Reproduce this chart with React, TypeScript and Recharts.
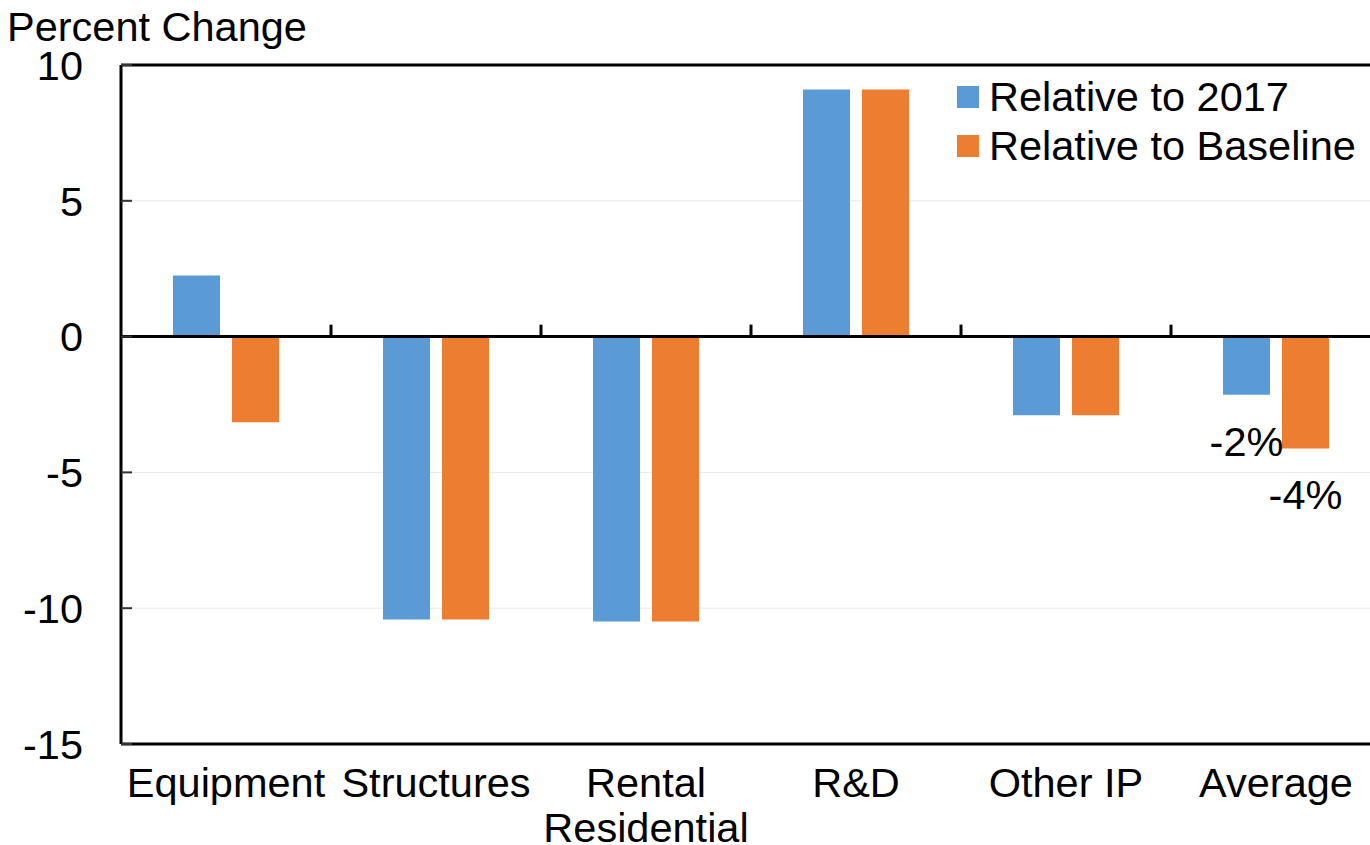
import React from "react";
import {
  BarChart,
  Bar,
  XAxis,
  YAxis,
  CartesianGrid,
  ReferenceLine,
  Legend,
  LabelList,
} from "recharts";

const categories = ["Equipment", "Structures", "Rental Residential", "R&D", "Other IP", "Average"];
const categoryLines = [["Equipment"], ["Structures"], ["Rental", "Residential"], ["R&D"], ["Other IP"], ["Average"]];
const rel2017 = [2.25, -10.42, -10.49, 9.1, -2.9, -2.14];
const relBaseline = [-3.15, -10.42, -10.49, 9.1, -2.9, -4.12];
const labels2017 = ["", "", "", "", "", "-2%"];
const labelsBaseline = ["", "", "", "", "", "-4%"];
const yTicks = [-15, -10, -5, 0, 5, 10];
const categoryBounds = [1, 2, 3, 4, 5];

const FONT = "'Liberation Sans', Arial, sans-serif";
const FS = 41.5;
const BLUE = "#5B9BD5";
const ORANGE = "#ED7D31";

const data = categories.map((c, i) => ({
  name: c,
  idx: i + 0.5,
  rel2017: rel2017[i],
  relBaseline: relBaseline[i],
  lab2017: labels2017[i],
  labBaseline: labelsBaseline[i],
}));

const Y_MARGIN = 38;

function YTick(props: any) {
  const { x, y, payload } = props;
  return (
    <g>
      <line x1={x + Y_MARGIN} x2={x + Y_MARGIN + 11} y1={y} y2={y} stroke="#333" strokeWidth={2} />
      <text x={x} y={y} dy="0.355em" textAnchor="end" fontSize={FS} fontFamily={FONT} fill="#000">
        {payload.value}
      </text>
    </g>
  );
}

function XTick(props: any) {
  const { x, y, index } = props;
  const lines = categoryLines[index] || [];
  return (
    <text x={x} y={y + 53} textAnchor="middle" fontSize={FS} fontFamily={FONT} fill="#000">
      {lines.map((l, i) => (
        <tspan key={l} x={x} dy={i === 0 ? 0 : 45}>
          {l}
        </tspan>
      ))}
    </text>
  );
}

function BarLabel(props: any) {
  const { x, y, width, height, value } = props;
  if (!value) return null;
  const bottom = Math.max(y, y + height);
  return (
    <text x={x + width / 2} y={bottom + 61} textAnchor="middle" fontSize={FS} fontFamily={FONT} fill="#000">
      {value}
    </text>
  );
}

function LegendBox(props: any) {
  const { payload } = props;
  return (
    <div style={{ fontFamily: FONT, fontSize: FS }}>
      {(payload || []).map((p: any) => (
        <div key={p.value} style={{ display: "flex", alignItems: "center", height: 49 }}>
          <span style={{ width: 22, height: 22, background: p.color, display: "inline-block", marginRight: 10 }} />
          <span style={{ lineHeight: "49px", whiteSpace: "nowrap" }}>{p.value}</span>
        </div>
      ))}
    </div>
  );
}

export default function App() {
  return (
    <div
      style={{
        position: "absolute",
        left: 0,
        top: 0,
        width: 1370,
        height: 845,
        overflow: "hidden",
        background: "#fff",
      }}
    >
      <div
        style={{
          position: "absolute",
          left: 7,
          top: 6,
          fontFamily: FONT,
          fontSize: FS,
          lineHeight: "42px",
          whiteSpace: "nowrap",
        }}
      >
        Percent Change
      </div>
      <BarChart
        width={1390}
        height={845}
        data={data}
        margin={{ top: 65, right: 9, bottom: 0, left: 0 }}
        barCategoryGap={52}
        barGap={12}
      >
        <CartesianGrid vertical={false} stroke="#e8e8e8" strokeWidth={1} />
        <XAxis
          dataKey="name"
          interval={0}
          height={101}
          tickSize={0}
          tickMargin={0}
          tick={<XTick />}
          axisLine={{ stroke: "#000", strokeWidth: 3 }}
        />
        <XAxis
          xAxisId="num"
          dataKey="idx"
          type="number"
          domain={[0, categories.length]}
          allowDataOverflow
          hide
        />
        <YAxis
          width={121}
          domain={[-15, 10]}
          ticks={yTicks}
          interval={0}
          tickSize={0}
          tickMargin={Y_MARGIN}
          tick={<YTick />}
          axisLine={{ stroke: "#000", strokeWidth: 3 }}
        />
        <Legend
          layout="vertical"
          align="center"
          verticalAlign="middle"
          wrapperStyle={{ top: 72, left: 957, width: 420, height: 100 }}
          content={<LegendBox />}
        />
        <Bar dataKey="rel2017" name="Relative to 2017" fill={BLUE} isAnimationActive={false}>
          <LabelList dataKey="lab2017" content={<BarLabel />} />
        </Bar>
        <Bar dataKey="relBaseline" name="Relative to Baseline" fill={ORANGE} isAnimationActive={false}>
          <LabelList dataKey="labBaseline" content={<BarLabel />} />
        </Bar>
        <ReferenceLine y={0} stroke="#000" strokeWidth={3} />
        <ReferenceLine y={10} stroke="#000" strokeWidth={3} />
        {categoryBounds.map((b) => (
          <ReferenceLine
            key={b}
            xAxisId="num"
            segment={[
              { x: b, y: 0 },
              { x: b, y: 0.44 },
            ]}
            stroke="#000"
            strokeWidth={3}
          />
        ))}
      </BarChart>
    </div>
  );
}
